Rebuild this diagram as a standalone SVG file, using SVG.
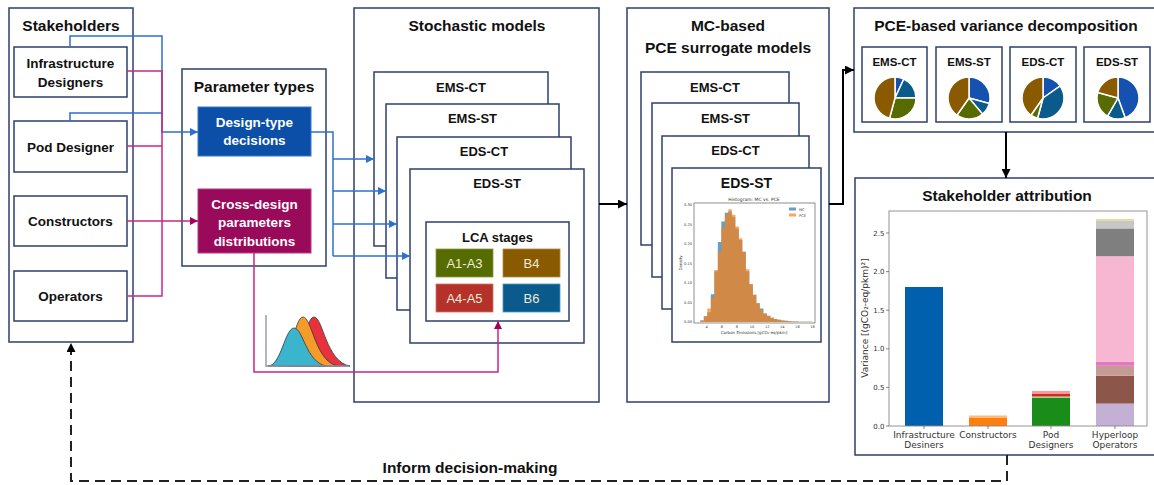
<svg xmlns="http://www.w3.org/2000/svg" width="1154" height="485" viewBox="0 0 1154 485">
<style>
.box{fill:#fff;stroke:#2D3F6B;stroke-width:1.5}
.t{font-family:"Liberation Sans",Arial,sans-serif;font-weight:bold;fill:#111;text-anchor:middle}
.h{font-size:15.5px}
.l{font-size:13.5px}
.m{font-size:13px}
.w{fill:#fff}
.st{font-family:"Liberation Sans",Arial,sans-serif;font-size:13px;fill:#EDEBD8;text-anchor:middle}
.blue{fill:none;stroke:#2F6FD0;stroke-width:1.5}
.mag{fill:none;stroke:#C8287F;stroke-width:1.5}
.blk{fill:none;stroke:#000;stroke-width:2}
.tk{font-family:"DejaVu Sans",sans-serif;fill:#333}
.pw{stroke:#fff;stroke-width:1.5}
</style>
<defs>
<marker id="ab" viewBox="0 0 10 10" refX="10" refY="5" markerWidth="8" markerHeight="8" markerUnits="userSpaceOnUse" orient="auto"><path d="M0,0 L10,5 L0,10 Z" fill="#2F6FD0"/></marker>
<marker id="am" viewBox="0 0 10 10" refX="10" refY="5" markerWidth="8" markerHeight="8" markerUnits="userSpaceOnUse" orient="auto"><path d="M0,0 L10,5 L0,10 Z" fill="#A0005E"/></marker>
<marker id="ak" viewBox="0 0 10 10" refX="10" refY="5" markerWidth="9" markerHeight="9" markerUnits="userSpaceOnUse" orient="auto"><path d="M0,0 L10,5 L0,10 Z" fill="#000"/></marker>
</defs>

<g id="stakeholders">
<rect class="box" x="9" y="8" width="124" height="334"/>
<text class="t h" x="71" y="30.5">Stakeholders</text>
<rect class="box" x="14" y="47" width="113" height="50"/>
<text class="t l" x="70.5" y="68">Infrastructure</text>
<text class="t l" x="70.5" y="87">Designers</text>
<rect class="box" x="14" y="121" width="113" height="51"/>
<text class="t l" x="70.5" y="152">Pod Designer</text>
<rect class="box" x="14" y="196" width="113" height="50"/>
<text class="t l" x="70.5" y="226">Constructors</text>
<rect class="box" x="14" y="271" width="113" height="50"/>
<text class="t l" x="70.5" y="301">Operators</text>
</g>

<g id="parameter-types">
<rect class="box" x="182" y="69" width="144" height="197"/>
<text class="t h" x="254" y="91.5">Parameter types</text>
<rect x="198" y="107" width="113" height="49" fill="#0B4FA8" stroke="#3B78C8" stroke-width="1"/>
<text class="t l w" x="254.5" y="127">Design-type</text>
<text class="t l w" x="254.5" y="145">decisions</text>
<rect x="198" y="189" width="113" height="64" fill="#9A0A5A" stroke="#B83A80" stroke-width="1"/>
<text class="t l w" x="254.5" y="209">Cross-design</text>
<text class="t l w" x="254.5" y="227">parameters</text>
<text class="t l w" x="254.5" y="246">distributions</text>
</g>

<g id="distribution-icon">
<path d="M290,366 C302,366 305,317 314,317 C323,317 326,362 350,366 Z" fill="#E8313A" stroke="#2F3A55" stroke-width="0.8"/>
<path d="M279,366 C291,366 294,317 303,317 C312,317 315,362 338,366 Z" fill="#F59B28" stroke="#2F3A55" stroke-width="0.8"/>
<path d="M268,366 C281,366 285,328 294,328 C303,328 306,362 326,366 Z" fill="#3BB5CC" stroke="#2F3A55" stroke-width="0.8"/>
<path d="M266,315 V366 H350" fill="none" stroke="#8A8FA0" stroke-width="1.3"/>
</g>

<g id="stochastic-models">
<rect class="box" x="354" y="8" width="245" height="394"/>
<text class="t h" x="477" y="30.5">Stochastic models</text>
<rect class="box" x="374" y="72" width="174" height="174"/>
<text class="t m" x="461" y="91.5">EMS-CT</text>
<rect class="box" x="386" y="104" width="173" height="174"/>
<text class="t m" x="472.5" y="122.6">EMS-ST</text>
<rect class="box" x="397" y="137" width="174" height="173"/>
<text class="t m" x="484" y="155.6">EDS-CT</text>
<rect class="box" x="410" y="169" width="174" height="174"/>
<text class="t m" x="497" y="187.6">EDS-ST</text>
<rect class="box" x="426" y="222" width="143" height="99"/>
<text class="t m" x="497.5" y="241.6">LCA stages</text>
<rect x="436" y="249" width="57" height="28" fill="#566B00" stroke="#8A9A40" stroke-width="0.8"/>
<text class="st" x="464.5" y="267.5">A1-A3</text>
<rect x="503" y="249" width="57" height="28" fill="#8A5A00" stroke="#B08A40" stroke-width="0.8"/>
<text class="st" x="531.5" y="267.5">B4</text>
<rect x="436" y="284" width="57" height="28" fill="#B5322A" stroke="#D87060" stroke-width="0.8"/>
<text class="st" x="464.5" y="302.5">A4-A5</text>
<rect x="503" y="284" width="57" height="28" fill="#0A5A8C" stroke="#4A9AC0" stroke-width="0.8"/>
<text class="st" x="531.5" y="302.5">B6</text>
</g>

<g id="mc-pce-models">
<rect class="box" x="627" y="8" width="202" height="394"/>
<text class="t h" x="728" y="30.5">MC-based</text>
<text class="t h" x="728" y="52.5">PCE surrogate models</text>
<rect class="box" x="641" y="72" width="148" height="173"/>
<text class="t m" x="715" y="91.5">EMS-CT</text>
<rect class="box" x="652" y="103" width="147" height="174"/>
<text class="t m" x="725.5" y="122.5">EMS-ST</text>
<rect class="box" x="662" y="136" width="147" height="173"/>
<text class="t m" x="735.5" y="154.5">EDS-CT</text>
<rect class="box" x="672" y="168" width="149" height="174"/>
<text class="t" style="font-size:14px" x="746.5" y="188">EDS-ST</text>
<g id="histogram">
<text class="tk" style="font-size:4.5px" x="754" y="201" text-anchor="middle">Histogram: MC vs. PCE</text>
<path d="M700.33,322 V320.4 H703.83 V316.2 H707.33 V312.3 H710.83 V294.3 H714.33 V271.3 H717.83 V242 H721.33 V221.4 H724.83 V212.8 H728.33 V211.6 H731.83 V216.7 H735.33 V228.4 H738.83 V240.1 H742.33 V251.8 H745.83 V271.3 H749.33 V284.2 H752.83 V294.7 H756.33 V303.3 H759.83 V308.4 H763.33 V313.4 H766.83 V315.8 H770.33 V317.7 H773.83 V318.9 H777.33 V319.7 H780.83 V320.4 H784.33 V320.8 H787.83 V321.2 H791.33 V321.4 H794.83 V321.6 H798.33 V321.8 H812.33 V322 Z" fill="#1f77b4" fill-opacity="0.7"/>
<path d="M700.33,322 V320.4 H703.83 V316.2 H707.33 V308.4 H710.83 V297.8 H714.33 V270.1 H717.83 V251.8 H721.33 V227.2 H724.83 V214.75 H728.33 V209.3 H731.83 V214.75 H735.33 V226.45 H738.83 V238.15 H742.33 V251.8 H745.83 V269.35 H749.33 V284.2 H752.83 V294.7 H756.33 V303.3 H759.83 V309.5 H763.33 V313.4 H766.83 V315.8 H770.33 V317.7 H773.83 V318.9 H777.33 V319.7 H780.83 V320.4 H784.33 V320.8 H787.83 V321.2 H791.33 V321.4 H794.83 V321.6 H798.33 V321.8 H812.33 V322 Z" fill="#ff7f0e" fill-opacity="0.7"/>
<rect x="694" y="203" width="121" height="120" fill="none" stroke="#444" stroke-width="0.6"/>
<g class="tk" style="font-size:3.6px" text-anchor="end">
<text x="692" y="323.2">0.00</text><text x="692" y="303.7">0.05</text><text x="692" y="284.2">0.10</text><text x="692" y="264.7">0.15</text><text x="692" y="245.2">0.20</text><text x="692" y="225.7">0.25</text><text x="692" y="206.2">0.30</text>
</g>
<g class="tk" style="font-size:3.6px" text-anchor="middle">
<text x="706.7" y="327.5">4</text><text x="721.8" y="327.5">6</text><text x="736.9" y="327.5">8</text><text x="752.1" y="327.5">10</text><text x="767.2" y="327.5">12</text><text x="782.3" y="327.5">14</text><text x="797.4" y="327.5">16</text><text x="812.6" y="327.5">18</text>
</g>
<text class="tk" style="font-size:4px" x="754" y="334" text-anchor="middle">Carbon Emissions [gCO₂-eq/pkm]</text>
<text class="tk" style="font-size:4px" x="0" y="0" text-anchor="middle" transform="translate(682,263) rotate(-90)">Density</text>
<rect x="789" y="207.5" width="7" height="3" fill="#1f77b4" fill-opacity="0.7"/>
<rect x="789" y="213.5" width="7" height="3" fill="#ff7f0e" fill-opacity="0.7"/>
<text class="tk" style="font-size:3.6px" x="799" y="210.5">MC</text>
<text class="tk" style="font-size:3.6px" x="799" y="216.5">PCE</text>
</g>
</g>

<g id="variance-decomposition">
<rect class="box" x="854" y="8" width="310" height="124"/>
<text class="t h" x="1006" y="30.5">PCE-based variance decomposition</text>
<rect class="box" x="862" y="47" width="65" height="75"/>
<text class="t" style="font-size:11.5px" x="894.5" y="66">EMS-CT</text>
<g transform="translate(895,98)">
<path class="pw" d="M0,0 L0,-21 A21,21 0 0 1 8.87,-19.03 Z" fill="#1552B0"/>
<path class="pw" d="M0,0 L8.87,-19.03 A21,21 0 0 1 21,0 Z" fill="#0A5A8C"/>
<path class="pw" d="M0,0 L21,0 A21,21 0 0 1 -5.44,20.28 Z" fill="#566B00"/>
<path class="pw" d="M0,0 L-5.44,20.28 A21,21 0 0 1 0,-21 Z" fill="#8A5A00"/>
</g>
<rect class="box" x="936" y="47" width="66" height="75"/>
<text class="t" style="font-size:11.5px" x="969" y="66">EMS-ST</text>
<g transform="translate(969,98)">
<path class="pw" d="M0,0 L0,-21 A21,21 0 0 1 20.28,5.44 Z" fill="#1552B0"/>
<path class="pw" d="M0,0 L20.28,5.44 A21,21 0 0 1 13.5,16.09 Z" fill="#0A5A8C"/>
<path class="pw" d="M0,0 L13.5,16.09 A21,21 0 0 1 -12.05,17.2 Z" fill="#566B00"/>
<path class="pw" d="M0,0 L-12.05,17.2 A21,21 0 0 1 0,-21 Z" fill="#8A5A00"/>
</g>
<rect class="box" x="1010" y="47" width="66" height="75"/>
<text class="t" style="font-size:11.5px" x="1043" y="66">EDS-CT</text>
<g transform="translate(1043,98)">
<path class="pw" d="M0,0 L0,-21 A21,21 0 0 1 17.2,-12.05 Z" fill="#1552B0"/>
<path class="pw" d="M0,0 L17.2,-12.05 A21,21 0 0 1 -5.44,20.28 Z" fill="#0A5A8C"/>
<path class="pw" d="M0,0 L-5.44,20.28 A21,21 0 0 1 -12.05,17.2 Z" fill="#566B00"/>
<path class="pw" d="M0,0 L-12.05,17.2 A21,21 0 0 1 0,-21 Z" fill="#8A5A00"/>
</g>
<rect class="box" x="1084" y="47" width="66" height="75"/>
<text class="t" style="font-size:11.5px" x="1117" y="66">EDS-ST</text>
<g transform="translate(1118,98)">
<path class="pw" d="M0,0 L0,-21 A21,21 0 0 1 7.18,19.73 Z" fill="#1552B0"/>
<path class="pw" d="M0,0 L7.18,19.73 A21,21 0 0 1 -10.5,18.19 Z" fill="#0A5A8C"/>
<path class="pw" d="M0,0 L-10.5,18.19 A21,21 0 0 1 -20.28,-5.44 Z" fill="#566B00"/>
<path class="pw" d="M0,0 L-20.28,-5.44 A21,21 0 0 1 0,-21 Z" fill="#8A5A00"/>
</g>
</g>

<g id="stakeholder-attribution">
<rect class="box" x="855" y="178" width="310" height="277"/>
<text class="t h" x="1007" y="200.5">Stakeholder attribution</text>
<rect x="905" y="287" width="38" height="139" fill="#0060AD"/>
<rect x="969" y="417.5" width="38" height="8.5" fill="#FF7F0E"/>
<rect x="969" y="415.5" width="38" height="2" fill="#FFBB78"/>
<rect x="1032" y="398" width="38" height="28" fill="#1A8C1A"/>
<rect x="1032" y="396.5" width="38" height="1.5" fill="#98DF8A"/>
<rect x="1032" y="394" width="38" height="2.5" fill="#D62728"/>
<rect x="1032" y="391" width="38" height="3" fill="#FF9896"/>
<rect x="1096" y="403.6" width="38" height="22.4" fill="#C5B0D5"/>
<rect x="1096" y="375.8" width="38" height="27.8" fill="#8C564B"/>
<rect x="1096" y="365.8" width="38" height="10" fill="#C49C94"/>
<rect x="1096" y="361.9" width="38" height="3.9" fill="#E377C2"/>
<rect x="1096" y="256.2" width="38" height="105.7" fill="#F7B6D2"/>
<rect x="1096" y="228.4" width="38" height="27.8" fill="#7F7F7F"/>
<rect x="1096" y="220.6" width="38" height="7.8" fill="#C7C7C7"/>
<rect x="1096" y="219.1" width="38" height="1.5" fill="#DBDB8D"/>
<rect x="889" y="211" width="258" height="215" fill="none" stroke="#888" stroke-width="0.9"/>
<g stroke="#555" stroke-width="0.7">
<path d="M886,426 H889 M886,387.4 H889 M886,348.8 H889 M886,310.2 H889 M886,271.6 H889 M886,233 H889"/>
<path d="M924,426 V429 M988,426 V429 M1051,426 V429 M1115,426 V429"/>
</g>
<g class="tk" style="font-size:7px" text-anchor="end">
<text x="884.5" y="428.5">0.0</text><text x="884.5" y="389.9">0.5</text><text x="884.5" y="351.3">1.0</text><text x="884.5" y="312.7">1.5</text><text x="884.5" y="274.1">2.0</text><text x="884.5" y="235.5">2.5</text>
</g>
<g class="tk" style="font-size:9px" text-anchor="middle">
<text x="924" y="438">Infrastructure</text><text x="924" y="447.5">Desiners</text>
<text x="988" y="438">Constructors</text>
<text x="1051" y="438">Pod</text><text x="1051" y="447.5">Designers</text>
<text x="1115" y="438">Hyperloop</text><text x="1115" y="447.5">Operators</text>
</g>
<text class="tk" style="font-size:9px" x="0" y="0" text-anchor="middle" transform="translate(868,318) rotate(-90)">Variance [(gCO₂-eq/pkm)²]</text>
</g>

<g id="connectors">
<path class="blue" d="M70,47 V36 H162 V132 H198" marker-end="url(#ab)"/>
<path class="blue" d="M70,121 V113 H162"/>
<path class="mag" d="M127,71 H162 V296 H127"/>
<path class="mag" d="M127,146 H162"/>
<path class="mag" d="M127,221 H198" marker-end="url(#am)"/>
<path class="blue" d="M311,132 H333 V256"/>
<path class="blue" d="M333,159 H374" marker-end="url(#ab)"/>
<path class="blue" d="M333,191 H386" marker-end="url(#ab)"/>
<path class="blue" d="M333,224 H397" marker-end="url(#ab)"/>
<path class="blue" d="M333,256 H410" marker-end="url(#ab)"/>
<path class="mag" d="M254,253 V372 H498 V321" marker-end="url(#am)"/>
<path class="blk" d="M599,204 H627" marker-end="url(#ak)"/>
<path class="blk" d="M829,204 H843 V70 H854" marker-end="url(#ak)"/>
<path class="blk" d="M1006,132 V178" marker-end="url(#ak)"/>
<path d="M1007,455 V481 H71 V343" fill="none" stroke="#222" stroke-width="2" stroke-dasharray="10,6" marker-end="url(#ak)"/>
<text class="t h" x="470" y="473">Inform decision-making</text>
</g>
</svg>
